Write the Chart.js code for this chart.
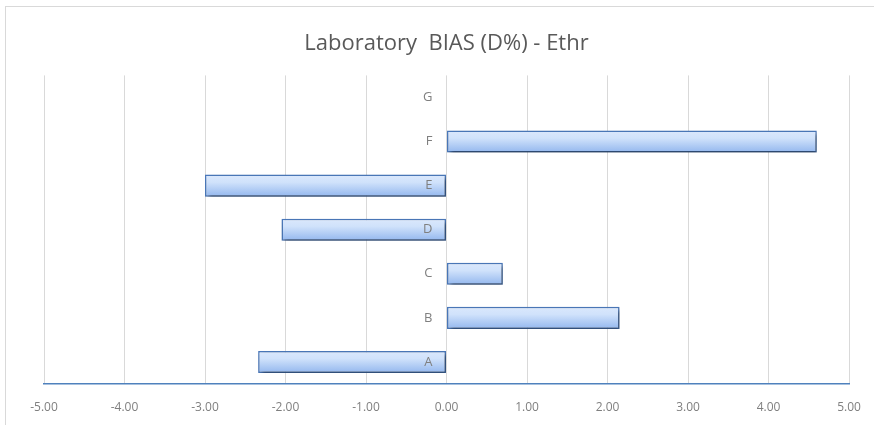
<!DOCTYPE html>
<html>
<head>
<meta charset="utf-8">
<script src="https://cdn.jsdelivr.net/npm/chart.js@4/dist/chart.umd.min.js"></script>
<style>
  html, body { margin: 0; padding: 0; background: #fff; }
  #wrap { position: relative; width: 874px; height: 425px; }
  #frame {
    position: absolute; left: 5px; top: 6px; right: 0; bottom: 0;
    border-top: 1px solid #d9d9d9; border-left: 1px solid #d9d9d9;
    pointer-events: none;
  }
  canvas { position: absolute; left: 0; top: 0; }
</style>
</head>
<body>
<div id="wrap">
  <canvas id="chart" width="874" height="425"></canvas>
  <div id="frame"></div>
</div>
<script>
const labs = ['A', 'B', 'C', 'D', 'E', 'F', 'G'];
const bias = [-2.34, 2.15, 0.70, -2.05, -3.00, 4.60, null];
const xTicks = [-5, -4, -3, -2, -1, 0, 1, 2, 3, 4, 5];

const titleGray = '#595959';
const tickGray = '#7f7f7f';
const fontFam = '"Open Sans", "Liberation Sans", sans-serif';

// vertical gradient per bar, worked out from the category scale
function barFill(ctx) {
  const chart = ctx.chart;
  const y = chart.scales && chart.scales.y;
  if (!chart.chartArea || !y || ctx.type !== 'data') return '#c3d9f8';
  const mid = y.getPixelForValue(ctx.dataIndex);
  const half = y.height / labs.length * 0.25;
  const g = chart.ctx.createLinearGradient(0, mid - half, 0, mid + half);
  g.addColorStop(0, '#dbe8fc');
  g.addColorStop(0.35, '#d0e2fb');
  g.addColorStop(1, '#93b7ee');
  return g;
}

// soft drop shadow under the bars
const barShadow = {
  id: 'barShadow',
  beforeDatasetDraw(chart) {
    const c = chart.ctx;
    c.save();
    c.shadowColor = 'rgba(0,0,0,0.45)';
    c.shadowBlur = 4;
    c.shadowOffsetX = 2;
    c.shadowOffsetY = 2.5;
  },
  afterDatasetDraw(chart) {
    chart.ctx.restore();
  }
};

// category labels sit just left of the zero line, on top of the bars
const catLabels = {
  id: 'catLabels',
  afterDatasetsDraw(chart) {
    const c = chart.ctx;
    const y = chart.scales.y;
    const x0 = chart.scales.x.getPixelForValue(0) - 14;
    c.save();
    c.fillStyle = tickGray;
    c.font = '13px ' + fontFam;
    c.textAlign = 'right';
    c.textBaseline = 'middle';
    y.getLabels().forEach((lab, i) => {
      c.fillText(lab, x0, y.getPixelForValue(i));
    });
    c.restore();
  }
};

new Chart(document.getElementById('chart'), {
  type: 'bar',
  data: {
    labels: labs,
    datasets: [{
      data: bias,
      backgroundColor: barFill,
      borderColor: '#4a78ba',
      borderWidth: 1.5,
      borderSkipped: false,
      categoryPercentage: 1,
      barPercentage: 0.5
    }]
  },
  plugins: [barShadow, catLabels],
  options: {
    indexAxis: 'y',
    responsive: false,
    animation: false,
    layout: { padding: { left: 44, right: 25, bottom: 0, top: 0 } },
    plugins: {
      legend: { display: false },
      tooltip: { enabled: false },
      title: {
        display: true,
        text: 'Laboratory  BIAS (D%) - Ethr',
        color: titleGray,
        font: { family: fontFam, size: 22, weight: 'normal' },
        padding: { top: 31, bottom: 18 }
      }
    },
    scales: {
      x: {
        type: 'linear',
        min: -5,
        max: 5,
        afterBuildTicks(scale) {
          scale.ticks = xTicks.map(v => ({ value: v }));
        },
        afterFit(scale) {
          scale.height = 41;
          scale.paddingLeft = 0;
          scale.paddingRight = 0;
        },
        grid: { color: '#d9d9d9', lineWidth: 1, drawTicks: false },
        border: { display: true, color: '#4f81bd', width: 1.5 },
        ticks: {
          color: tickGray,
          padding: 16,
          maxRotation: 0,
          font: { family: fontFam, size: 12 },
          callback: v => Number(v).toFixed(2)
        }
      },
      y: {
        type: 'category',
        position: { x: 0 },
        reverse: true,
        grid: { display: false, drawTicks: false },
        border: { display: false },
        ticks: { display: false }
      }
    }
  }
});
</script>
</body>
</html>
